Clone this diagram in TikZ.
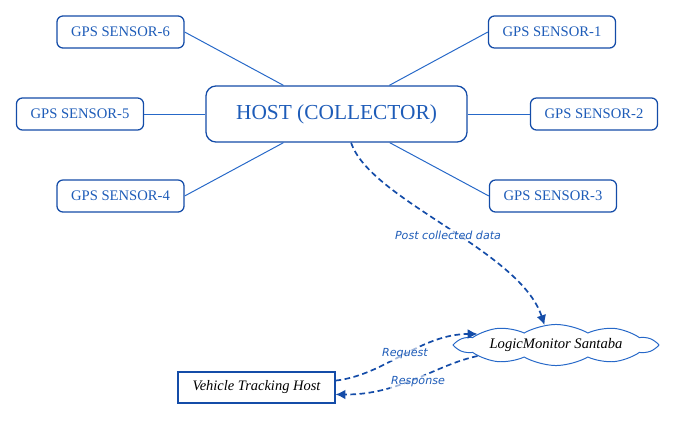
\documentclass[tikz,border=0pt]{standalone}
\usepackage{fontspec}
\setmainfont{Liberation Serif}
\newfontfamily\edgefont{DejaVu Sans}
\usetikzlibrary{shapes.symbols,arrows.meta}
\definecolor{boxblue}{RGB}{20,76,168}
\definecolor{txtblue}{RGB}{30,92,184}
\definecolor{lineblue}{RGB}{38,104,200}
\tikzset{sensor/.style={draw=boxblue, line width=0.9pt, rounded corners=0.15cm, minimum width=3.175cm, minimum height=0.8cm, text=txtblue, font=\fontsize{10.4}{12}\selectfont, inner sep=0pt},
         hostbox/.style={draw=boxblue, line width=0.9pt, rounded corners=0.25cm, minimum width=6.525cm, minimum height=1.4cm, text=txtblue, font=\fontsize{15.2}{17}\selectfont, inner sep=0pt},
         link/.style={lineblue, line width=0.7pt},
         flow/.style={boxblue, line width=1.2pt, dash pattern=on 4pt off 2.5pt, -{Latex[length=7pt,width=7pt]}},
         flowlabel/.style={text=txtblue, font=\edgefont\itshape\fontsize{7.9}{9}\selectfont, fill=white, fill opacity=0.6, text opacity=1, inner sep=1pt}}

\begin{document}
\begin{tikzpicture}[x=0.025cm,y=-0.025cm]
   \useasboundingbox (0,0) rectangle (675,420);
   % host and sensors
   \node[hostbox] (host) at (336.5,114) {HOST (COLLECTOR)};
   \node[sensor] (s6) at (120.5, 32) {GPS SENSOR-6};
   \node[sensor] (s5) at ( 80.0,114) {GPS SENSOR-5};
   \node[sensor] (s4) at (120.5,196) {GPS SENSOR-4};
   \node[sensor] (s1) at (552.0, 32) {GPS SENSOR-1};
   \node[sensor] (s2) at (594.0,114) {GPS SENSOR-2};
   \node[sensor] (s3) at (553.0,196) {GPS SENSOR-3};
   \draw[link] (s6.east) -- (host);
   \draw[link] (s5.east) -- (host);
   \draw[link] (s4.east) -- (host);
   \draw[link] (s1.west) -- (host);
   \draw[link] (s2.west) -- (host);
   \draw[link] (s3.west) -- (host);
   % cloud and vehicle host
   \node[cloud, cloud puffs=10, cloud puff arc=60, aspect=7, draw=lineblue, line width=0.7pt, minimum width=4.95cm, minimum height=0.75cm, inner sep=0pt, font=\itshape\fontsize{10.4}{12}\selectfont] (santaba) at (556,345) {LogicMonitor Santaba};
   \node[draw=boxblue, line width=0.8pt, minimum width=3.925cm, minimum height=0.775cm, inner sep=0pt, font=\itshape\fontsize{10.3}{12}\selectfont] (vth) at (256.5,387.5) {Vehicle Tracking Host};
   \draw[flow] (host.297) .. controls (370,200) and (520,250) .. (santaba.120);
   \node[flowlabel] (post) at (448,235) {Post collected data};
   \draw[flow] (vth.5) .. controls (385,375) and (420,334) .. (santaba.172);
   \draw[flow] (santaba.188) .. controls (435,365) and (400,395) .. (vth.-5);
   \node[flowlabel] (req) at (405,354) {Request};
   \node[flowlabel] (resp) at (418,382) {Response};
\end{tikzpicture}
\end{document}
